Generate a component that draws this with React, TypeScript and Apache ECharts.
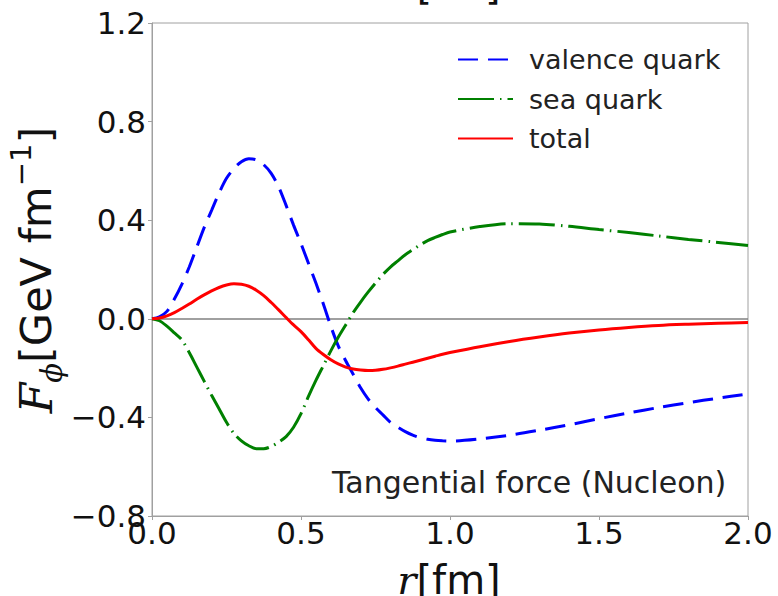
import React, { useEffect, useRef } from "react";
import * as echarts from "echarts";

const rValues = [
  0, 0.025, 0.05, 0.075, 0.1, 0.125, 0.15, 0.175, 0.2, 0.225, 0.25, 0.275, 0.3, 0.325, 0.35, 0.375, 0.4, 0.425, 0.45, 0.475,
  0.5, 0.525, 0.55, 0.575, 0.6, 0.625, 0.65, 0.675, 0.7, 0.725, 0.75, 0.775, 0.8, 0.825, 0.85, 0.875, 0.9, 0.925, 0.95, 0.975,
  1.0, 1.1, 1.2, 1.3, 1.4, 1.5, 1.6, 1.7, 1.8, 1.9, 2.0,
];
const valence = [
  0, 0.008, 0.03, 0.08, 0.14, 0.21, 0.29, 0.37, 0.44, 0.51, 0.57, 0.61, 0.637, 0.649, 0.645, 0.625, 0.59, 0.535, 0.46, 0.38,
  0.305, 0.225, 0.145, 0.06, -0.03, -0.11, -0.17, -0.225, -0.28, -0.325, -0.36, -0.39, -0.42, -0.44, -0.458, -0.472, -0.482, -0.489, -0.493, -0.495,
  -0.496, -0.487, -0.472, -0.452, -0.43, -0.405, -0.382, -0.36, -0.34, -0.322, -0.305,
];
const sea = [
  0, -0.008, -0.03, -0.057, -0.085, -0.137, -0.195, -0.253, -0.31, -0.365, -0.42, -0.465, -0.495, -0.515, -0.527, -0.527, -0.518, -0.5, -0.478, -0.44,
  -0.385, -0.315, -0.25, -0.19, -0.13, -0.075, -0.025, 0.025, 0.068, 0.108, 0.145, 0.18, 0.21, 0.235, 0.26, 0.28, 0.3, 0.317, 0.33, 0.342,
  0.352, 0.374, 0.386, 0.385, 0.375, 0.362, 0.35, 0.336, 0.322, 0.31, 0.297,
];
const total = [
  0, 0.003, 0.012, 0.025, 0.042, 0.06, 0.079, 0.097, 0.113, 0.127, 0.137, 0.142, 0.14, 0.132, 0.116, 0.094, 0.066, 0.036, 0.005, -0.025,
  -0.052, -0.085, -0.12, -0.145, -0.166, -0.183, -0.196, -0.204, -0.208, -0.21, -0.209, -0.205, -0.199, -0.192, -0.184, -0.176, -0.168, -0.16, -0.152, -0.144,
  -0.137, -0.113, -0.092, -0.074, -0.058, -0.045, -0.035, -0.027, -0.022, -0.018, -0.015,
];

const seriesNames = ["valence quark", "sea quark", "total"];
const xTicks = { min: 0, max: 2, interval: 0.5 };
const yTicks = { min: -0.8, max: 1.2, interval: 0.4 };
const annotation = "Tangential force (Nucleon)";

const fmt = (v: number) => {
  const s = Math.abs(v).toFixed(1);
  return (v < -1e-9 ? "\u2212" : "") + s;
};

export default function App() {
  const ref = useRef<HTMLDivElement>(null);
  useEffect(() => {
    document.body.style.margin = "0";
    const chart = echarts.init(ref.current!, undefined, { renderer: "svg" });
    const pts = (arr: number[]) => rValues.map((x, i) => [x, arr[i]]);
    const sans = "DejaVu Sans";
    const serif = "DejaVu Serif";
    chart.setOption({
      animation: false,
      backgroundColor: "#ffffff",
      grid: {
        left: 152,
        top: 23,
        right: 30,
        bottom: 80,
        show: true,
        borderColor: "#a0a0a0",
        borderWidth: 1,
        containLabel: false,
      },
      legend: {
        orient: "vertical",
        left: 452,
        top: 41,
        itemWidth: 55,
        itemHeight: 14,
        itemGap: 12.5,
        data: seriesNames,
        itemStyle: { opacity: 0, borderWidth: 0 },
        textStyle: {
          fontSize: 27,
          color: "#222",
          fontFamily: sans,
          padding: [0, 0, 0, 11],
        },
      },
      xAxis: {
        type: "value",
        min: xTicks.min,
        max: xTicks.max,
        interval: xTicks.interval,
        splitLine: { show: false },
        axisLine: { onZero: false, lineStyle: { color: "#a0a0a0", width: 1 } },
        axisTick: { show: true, inside: false, length: 4, lineStyle: { color: "#a0a0a0" } },
        axisLabel: {
          formatter: fmt,
          fontSize: 31,
          color: "#111",
          fontFamily: sans,
          margin: 1,
        },
      },
      yAxis: {
        type: "value",
        min: yTicks.min,
        max: yTicks.max,
        interval: yTicks.interval,
        splitLine: { show: false },
        axisLine: { onZero: false, show: true, lineStyle: { color: "#a0a0a0", width: 1 } },
        axisTick: { show: true, inside: false, length: 4, lineStyle: { color: "#a0a0a0" } },
        axisLabel: {
          formatter: fmt,
          fontSize: 31,
          color: "#111",
          fontFamily: sans,
          margin: 6,
        },
      },
      series: [
        {
          name: seriesNames[0],
          type: "line",
          data: pts(valence),
          symbol: "none",
          smooth: 0.3,
          lineStyle: { color: "#0000ff", width: 3, type: [20, 10] },
          itemStyle: { color: "#0000ff" },
          z: 3,
          markLine: {
            silent: true,
            symbol: "none",
            label: { show: false },
            lineStyle: { color: "#808080", width: 1.5, type: "solid" },
            data: [{ yAxis: 0 }],
            z: 1,
          },
        },
        {
          name: seriesNames[1],
          type: "line",
          data: pts(sea),
          symbol: "none",
          smooth: 0.3,
          lineStyle: { color: "#008000", width: 3, type: [36, 6, 1.5, 6] },
          itemStyle: { color: "#008000" },
          z: 4,
        },
        {
          name: seriesNames[2],
          type: "line",
          data: pts(total),
          symbol: "none",
          smooth: 0.3,
          lineStyle: { color: "#ff0000", width: 3, type: "solid" },
          itemStyle: { color: "#ff0000" },
          z: 5,
        },
      ],
      graphic: [
        {
          type: "text",
          x: 332,
          y: 482,
          style: {
            text: annotation,
            fontSize: 30,
            fontFamily: sans,
            fill: "#222",
            align: "left",
            verticalAlign: "middle",
          },
        },
        {
          type: "text",
          x: 449,
          y: 580,
          style: {
            text: "{r|r}{n|[fm]}",
            align: "center",
            verticalAlign: "middle",
            rich: {
              r: { fontFamily: serif, fontStyle: "italic", fontSize: 40, fill: "#111" },
              n: { fontFamily: sans, fontSize: 40, fill: "#111" },
            },
          },
        },
        {
          type: "text",
          x: 449,
          y: -15,
          style: {
            text: "{r|r}{n|[fm]}",
            align: "center",
            verticalAlign: "middle",
            rich: {
              r: { fontFamily: serif, fontStyle: "italic", fontSize: 40, fill: "#111" },
              n: { fontFamily: sans, fontSize: 40, fill: "#111" },
            },
          },
        },
        {
          type: "text",
          x: 36,
          y: 270,
          rotation: Math.PI / 2,
          style: {
            text: "{F|F}{sub|\u03d5}{n|[GeV fm}{sup|\u22121}{n|]}",
            align: "center",
            verticalAlign: "middle",
            rich: {
              F: { fontFamily: serif, fontStyle: "italic", fontSize: 44, fill: "#111", lineHeight: 60 },
              sub: { fontFamily: serif, fontStyle: "italic", fontSize: 29, fill: "#111", lineHeight: 60, verticalAlign: "bottom" },
              n: { fontFamily: sans, fontSize: 43, fill: "#111", lineHeight: 60 },
              sup: { fontFamily: sans, fontSize: 29, fill: "#111", lineHeight: 60, verticalAlign: "top" },
            },
          },
        },
      ],
    });
    return () => chart.dispose();
  }, []);
  return <div ref={ref} style={{ width: 778, height: 596 }} />;
}
